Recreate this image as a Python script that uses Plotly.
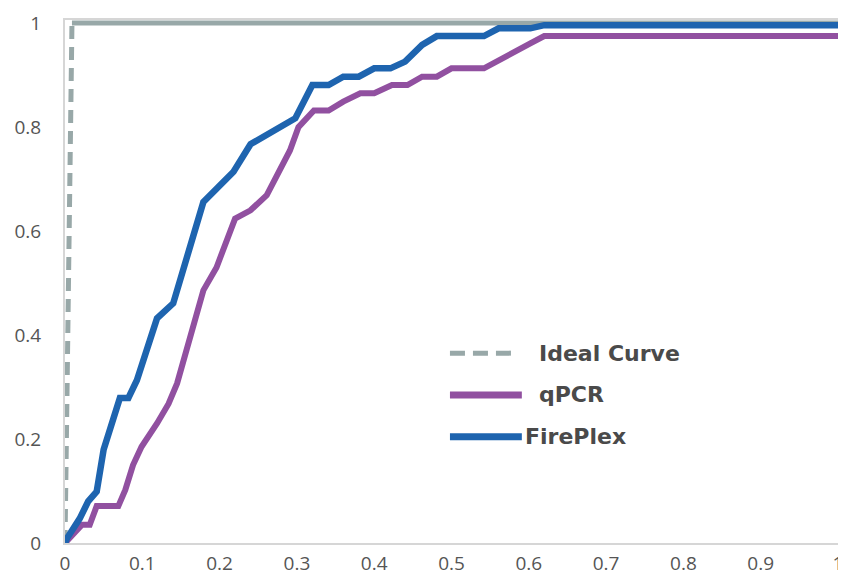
import plotly.graph_objects as go

# Data
ideal_x = [0.0, 0.009, 1.0]
ideal_y = [0.0, 1.0, 1.0]

qpcr_x = [0.0, 0.022, 0.032, 0.041, 0.069, 0.078, 0.088, 0.099, 0.119, 0.134, 0.145,
          0.179, 0.196, 0.22, 0.24, 0.261, 0.291, 0.302, 0.322, 0.341, 0.36, 0.382,
          0.40, 0.423, 0.443, 0.462, 0.481, 0.50, 0.542, 0.561, 0.583, 0.602, 0.62, 1.0]
qpcr_y = [0.0, 0.035, 0.035, 0.071, 0.071, 0.102, 0.15, 0.185, 0.23, 0.268, 0.307,
          0.486, 0.53, 0.624, 0.64, 0.669, 0.755, 0.80, 0.832, 0.832, 0.849, 0.865,
          0.865, 0.881, 0.881, 0.897, 0.897, 0.913, 0.913, 0.929, 0.945, 0.961, 0.975, 0.975]

fireplex_x = [0.0, 0.003, 0.019, 0.03, 0.041, 0.05, 0.071, 0.082, 0.093, 0.119, 0.14,
              0.179, 0.218, 0.24, 0.298, 0.32, 0.341, 0.36, 0.38, 0.40, 0.421, 0.44,
              0.462, 0.481, 0.542, 0.561, 0.602, 0.62, 1.0]
fireplex_y = [0.0, 0.01, 0.047, 0.08, 0.099, 0.18, 0.279, 0.279, 0.313, 0.432, 0.461,
              0.656, 0.714, 0.767, 0.817, 0.881, 0.881, 0.897, 0.897, 0.913, 0.913, 0.926,
              0.958, 0.975, 0.975, 0.99, 0.99, 0.996, 0.996]

tick_vals_x = [0, 0.1, 0.2, 0.3, 0.4, 0.5, 0.6, 0.7, 0.8, 0.9, 1]
tick_text_x = ["0", "0.1", "0.2", "0.3", "0.4", "0.5", "0.6", "0.7", "0.8", "0.9", "1"]
tick_vals_y = [0, 0.2, 0.4, 0.6, 0.8, 1]
tick_text_y = ["0", "0.2", "0.4", "0.6", "0.8", "1"]

legend_names = ["Ideal Curve", "qPCR", "FirePlex"]

GRAY = "#98A8A8"
PURPLE = "#9150A0"
BLUE = "#1E64AF"
TEXT = "#4a4a4a"

fig = go.Figure()
# Ideal curve: vertical part dashed, horizontal part appears solid in the reference
fig.add_trace(go.Scatter(x=ideal_x[:2], y=ideal_y[:2], mode="lines", name=legend_names[0],
                         line=dict(color=GRAY, width=5, dash="13px,8px"), showlegend=False))
fig.add_trace(go.Scatter(x=ideal_x[1:], y=ideal_y[1:], mode="lines", name=legend_names[0],
                         line=dict(color=GRAY, width=5), showlegend=False))
fig.add_trace(go.Scatter(x=qpcr_x, y=qpcr_y, mode="lines", name=legend_names[1],
                         line=dict(color=PURPLE, width=6), showlegend=False))
fig.add_trace(go.Scatter(x=fireplex_x, y=fireplex_y, mode="lines", name=legend_names[2],
                         line=dict(color=BLUE, width=6.5), showlegend=False))

# Manual legend (paper coordinates)
leg = [
    (0.363, GRAY, "dash", 0.582, 0.610),
    (0.283, PURPLE, "solid", 0.591, 0.610),
    (0.203, BLUE, "solid", 0.591, 0.592),
]
for (yy, col, dash, x1, tx), name in zip(leg, legend_names):
    fig.add_shape(type="line", xref="paper", yref="paper", x0=0.498, x1=x1, y0=yy, y1=yy,
                  line=dict(color=col, width=7 if dash == "solid" else 5,
                            dash="15px,8px" if dash == "dash" else "solid"))
    fig.add_annotation(xref="paper", yref="paper", x=tx, y=yy, text="<b>" + name + "</b>",
                       showarrow=False, xanchor="left", yanchor="middle",
                       font=dict(family="DejaVu Sans", size=22, color=TEXT))

axis_common = dict(showgrid=False, zeroline=False, showline=True, mirror=True,
                   linecolor="#d6d6d6", linewidth=2, ticks="", automargin=False,
                   ticklabeloverflow="allow",
                   tickfont=dict(family="Open Sans", size=19, color="#555555"))

# The page body adds an 8px offset, so the figure is sized to fit the window.
fig.update_layout(
    width=838, height=570,
    margin=dict(l=57, r=8, t=12, b=35),
    paper_bgcolor="white", plot_bgcolor="white",
    xaxis=dict(range=[0, 1], tickvals=tick_vals_x, ticktext=tick_text_x,
               ticklabelstandoff=2, **axis_common),
    yaxis=dict(range=[0, 1.006], tickvals=tick_vals_y, ticktext=tick_text_y,
               ticklabelstandoff=18, **axis_common),
    showlegend=False,
)

fig.write_html("out.html")
